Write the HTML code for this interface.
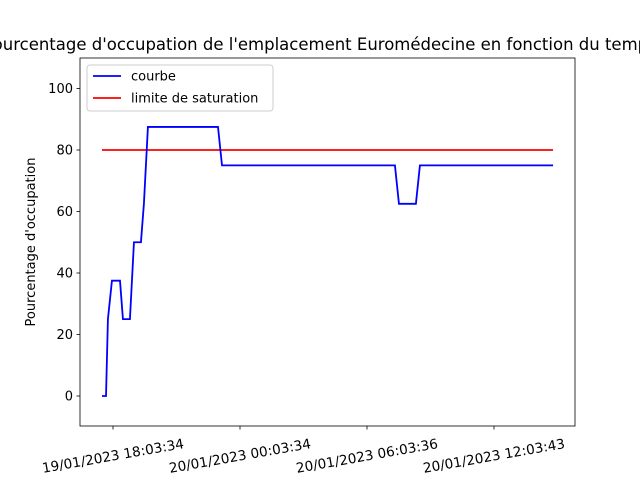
<!DOCTYPE html>
<html><head><meta charset="utf-8"><style>
body{margin:0;background:#fff;}
svg text{font-family:"DejaVu Sans","Liberation Sans",sans-serif;fill:#000;}
</style></head><body>
<svg id="c" width="640" height="480" viewBox="0 0 640 480" xmlns="http://www.w3.org/2000/svg">
<rect width="640" height="480" fill="#fff"/>
<text x="320" y="50" font-size="16.5" text-anchor="middle">Pourcentage d'occupation de l'emplacement Euromédecine en fonction du temps</text>
<g id="plot"></g>
</svg>
<script>
const hours = [-0.52,-0.33,-0.24,-0.05,0.33,0.47,0.80,0.99,1.32,1.46,1.65,4.96,5.15,13.32,13.51,14.31,14.50,20.79];
const occupation = [0,0,25,37.5,37.5,25,25,50,50,62.5,87.5,87.5,75,75,62.5,62.5,75,75];
const saturation = 80;
const satRange = [-0.52,20.79];
const yTicks = [0,20,40,60,80,100];
const xTickHours = [0,6,12,18];
const xTickLabels = ["19/01/2023 18:03:34","20/01/2023 00:03:34","20/01/2023 06:03:36","20/01/2023 12:03:43"];
const L=80,R=575,T=58,B=426;
const xs=h=>113+h*127/6;
const ys=v=>396-v*3.075;
const NS="http://www.w3.org/2000/svg";
const g=document.getElementById('plot');
function el(t,a){const e=document.createElementNS(NS,t);for(const k in a)e.setAttribute(k,a[k]);g.appendChild(e);return e;}
const sat=el('line',{x1:xs(satRange[0]),x2:xs(satRange[1]),y1:ys(saturation),y2:ys(saturation),stroke:'#ff0000','stroke-width':1.8});


const pl=el('polyline',{points:hours.map((h,i)=>xs(h)+','+ys(occupation[i])).join(' '),fill:'none',stroke:'#0000ff','stroke-width':1.8});


const fr=el('rect',{x:L,y:T,width:R-L,height:B-T,fill:'none',stroke:'#000','stroke-width':0.8});


yTicks.forEach(v=>{
  el('line',{x1:L-3.5,x2:L,y1:ys(v),y2:ys(v),stroke:'#000','stroke-width':0.8});
  const t=el('text',{x:L-7,y:ys(v)+4.5,'font-size':13,'text-anchor':'end'});t.textContent=v;
  
  
});
xTickHours.forEach((h,i)=>{
  const x=xs(h);
  el('line',{x1:x,x2:x,y1:B,y2:B+3.5,stroke:'#000','stroke-width':0.8});
  const cy=B+30;
  const t=el('text',{x:x,y:cy+4.5,'font-size':13.6,'text-anchor':'middle',transform:`rotate(-10 ${x} ${cy})`});
  t.textContent=xTickLabels[i];
  
  
});
const yl=el('text',{x:35,y:(T+B)/2,'font-size':13,'text-anchor':'middle',transform:`rotate(-90 35 ${(T+B)/2})`});
yl.textContent="Pourcentage d'occupation";


const lg=el('rect',{x:87,y:65,width:186,height:46,rx:3,fill:'#fff',stroke:'#ccc','stroke-width':1});


[["courbe","#0000ff",76],["limite de saturation","#ff0000",98]].forEach(([n,c,y])=>{
  el('line',{x1:93,x2:121,y1:y,y2:y,stroke:c,'stroke-width':1.8});
  const t=el('text',{x:131,y:y+4.5,'font-size':13});t.textContent=n;
  
  
});
</script>
</body></html>
